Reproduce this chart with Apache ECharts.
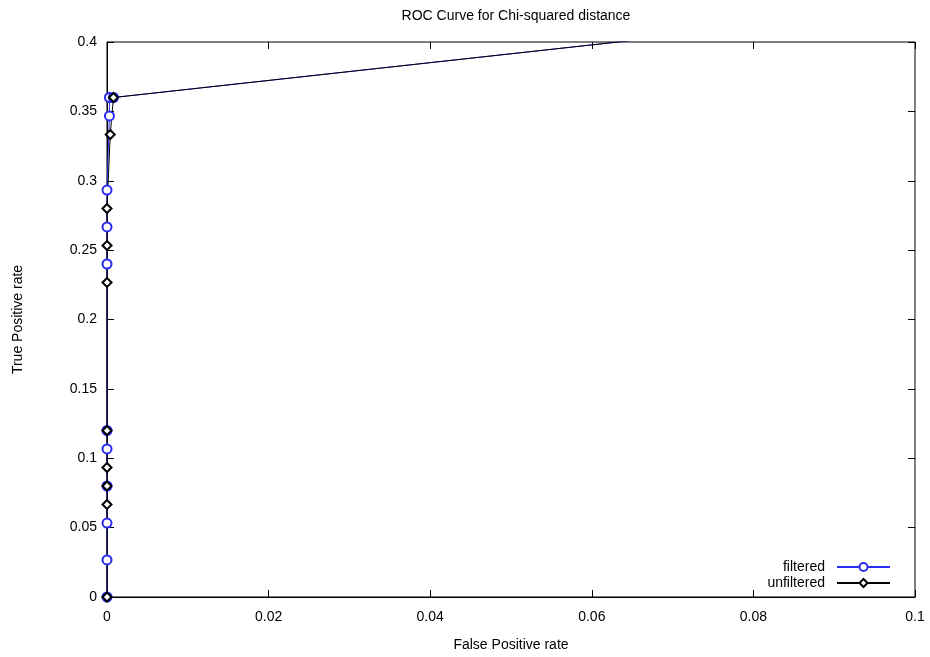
<!DOCTYPE html>
<html>
<head>
<meta charset="utf-8">
<script src="https://cdn.jsdelivr.net/npm/echarts@6/dist/echarts.min.js"></script>
<style>
  html, body { margin: 0; padding: 0; background: #fff; }
  #chart { width: 930px; height: 657px; }
</style>
</head>
<body>
<div id="chart"></div>
<script>
// ROC points: false positive rate / true positive rate
const fprFiltered = [0, 0, 0, 0, 0, 0, 0, 0, 0, 0.0003, 0.0003, 0.0008, 0.084];
const tprFiltered = [0, 0.0267, 0.0533, 0.08, 0.1067, 0.12, 0.24, 0.2667, 0.2933, 0.3467, 0.36, 0.36, 0.4133];

const fprUnfiltered = [0, 0, 0, 0, 0, 0, 0, 0, 0.0004, 0.0008, 0.084];
const tprUnfiltered = [0, 0.0667, 0.08, 0.0933, 0.12, 0.2267, 0.2533, 0.28, 0.3333, 0.36, 0.4133];

const xTicks = [0, 0.02, 0.04, 0.06, 0.08, 0.1];
const yTicks = [0, 0.05, 0.1, 0.15, 0.2, 0.25, 0.3, 0.35, 0.4];

const FONT = 'Liberation Sans, Arial, sans-serif';

function pairs(xs, ys) { return xs.map((x, i) => [x, ys[i]]); }
function fmt(v) { return String(+v.toFixed(4)); }

const chart = echarts.init(document.getElementById('chart'), null, { renderer: 'canvas' });

const tickStyle = { show: true, inside: true, length: 7, lineStyle: { color: '#000', width: 1 } };
const hiddenLine = { show: false, onZero: false };
const mainLine = { show: true, onZero: false, lineStyle: { color: '#000' } };

chart.setOption({
  animation: false,
  backgroundColor: '#fff',
  title: {
    text: 'ROC Curve for Chi-squared distance',
    left: 511, top: 4, textAlign: 'center',
    textStyle: { fontFamily: FONT, fontSize: 14, fontWeight: 'normal', color: '#000' }
  },
  grid: {
    left: 107, right: 15, top: 42, bottom: 60,
    show: true, borderColor: '#000', borderWidth: 1, backgroundColor: 'transparent'
  },
  legend: {
    orient: 'vertical', right: 34, top: 555, align: 'right',
    itemWidth: 53, itemHeight: 10, itemGap: 2,
    textStyle: { fontFamily: FONT, fontSize: 14, color: '#000', padding: [0, 7, 0, 0] },
    data: ['filtered', 'unfiltered']
  },
  xAxis: [
    {
      type: 'value', min: xTicks[0], max: xTicks[xTicks.length - 1], interval: 0.02,
      name: 'False Positive rate', nameLocation: 'middle', nameGap: 41,
      nameTextStyle: { fontFamily: FONT, fontSize: 14, color: '#000' },
      axisLine: mainLine,
      axisTick: tickStyle, splitLine: { show: false },
      axisLabel: { fontFamily: FONT, fontSize: 14, color: '#000', margin: 13, formatter: fmt }
    },
    {
      type: 'value', position: 'top', min: xTicks[0], max: xTicks[xTicks.length - 1], interval: 0.02,
      axisLine: hiddenLine, axisTick: tickStyle, axisLabel: { show: false }, splitLine: { show: false }
    }
  ],
  yAxis: [
    {
      type: 'value', min: yTicks[0], max: yTicks[yTicks.length - 1], interval: 0.05,
      name: 'True Positive rate', nameLocation: 'middle', nameGap: 82, nameRotate: 90,
      nameTextStyle: { fontFamily: FONT, fontSize: 14, color: '#000' },
      axisLine: mainLine,
      axisTick: tickStyle, splitLine: { show: false },
      axisLabel: { fontFamily: FONT, fontSize: 14, color: '#000', margin: 10, formatter: fmt }
    },
    {
      type: 'value', position: 'right', min: yTicks[0], max: yTicks[yTicks.length - 1], interval: 0.05,
      axisLine: hiddenLine, axisTick: tickStyle, axisLabel: { show: false }, splitLine: { show: false }
    }
  ],
  series: [
    {
      name: 'filtered', type: 'line', clip: true,
      data: pairs(fprFiltered, tprFiltered),
      symbol: 'emptyCircle', symbolSize: 9,
      lineStyle: { color: '#2a2af0', width: 1 },
      itemStyle: { color: '#2a2af0', borderColor: '#2a2af0', borderWidth: 1 }
    },
    {
      name: 'unfiltered', type: 'line', clip: true,
      data: pairs(fprUnfiltered, tprUnfiltered),
      symbol: 'emptyDiamond', symbolSize: 9,
      lineStyle: { color: '#000', width: 1 },
      itemStyle: { color: '#000', borderColor: '#000', borderWidth: 1 }
    }
  ]
});
</script>
</body>
</html>
